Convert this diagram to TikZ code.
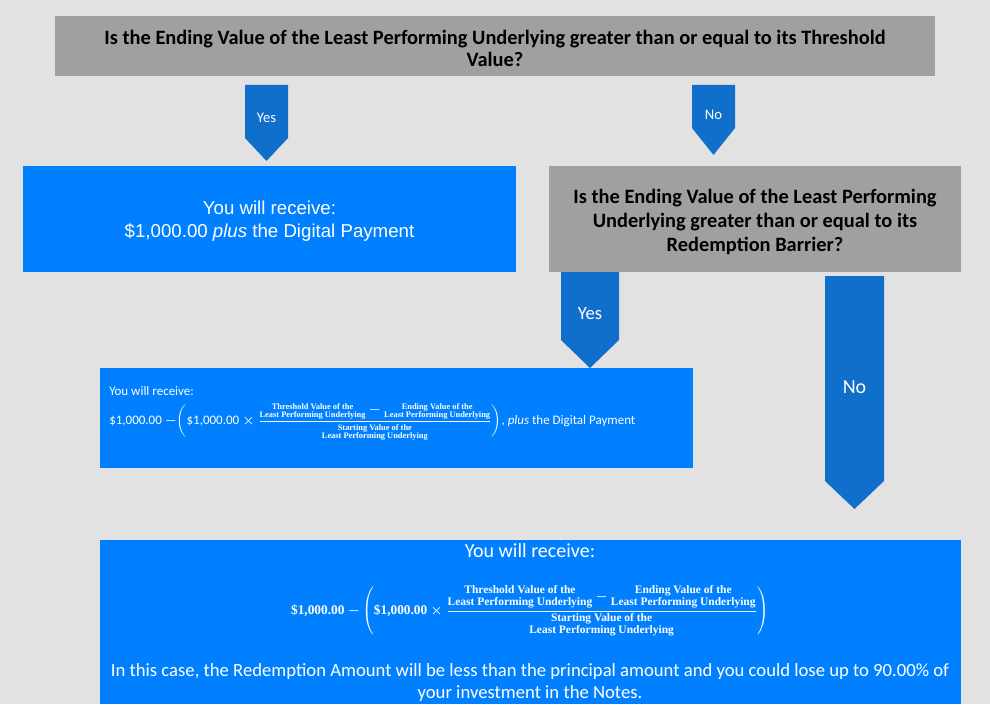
\documentclass[tikz,border=0pt]{standalone}
\usepackage{fontspec}
\usepackage{amsmath}
\usetikzlibrary{positioning,calc}
\newfontfamily\calibrifont{Carlito}
\newfontfamily\arialfont{Liberation Sans}
\newfontfamily\cambriafont{Liberation Serif}
\definecolor{bggray}{HTML}{E2E2E2}
\definecolor{qgray}{HTML}{A0A0A0}
\definecolor{resblue}{HTML}{0080FF}
\definecolor{arrblue}{HTML}{0F6FCB}
\newcommand{\twolines}[2]{\begin{tabular}{@{}c@{}}#1\\#2\end{tabular}}
\newcommand{\lossfrac}[1]{%
	\dfrac{\mbox{#1\twolines{Threshold Value of the}{Least Performing Underlying}}%
		-\mbox{#1\twolines{Ending Value of the}{Least Performing Underlying}}}%
	{\mbox{#1\twolines{Starting Value of the}{Least Performing Underlying}}}}
\newsavebox{\smallcalc}
\newsavebox{\bigcalc}
\tikzset{
	question/.style={fill=qgray,inner sep=0pt},
	result/.style={fill=resblue,inner sep=0pt},
	qtext/.style={inner sep=0pt,align=center,
		font=\calibrifont\bfseries\fontsize{15.3}{18}\selectfont},
	whitetext/.style={text=white,inner sep=0pt,align=center,font=\calibrifont},
}
\begin{document}
\sbox{\smallcalc}{\color{white}\calibrifont\fontsize{9.75}{11}\selectfont\boldmath
	\$1,000.00 $-\bigg(\text{\$1,000.00}\times
	\lossfrac{\cambriafont\bfseries\fontsize{6.3}{5.2}\selectfont}\bigg)$,
	\textit{plus} the Digital Payment}
\sbox{\bigcalc}{\color{white}\cambriafont\bfseries\fontsize{10}{11}\selectfont\boldmath
	\$1,000.00 $-\left(\text{\$1,000.00}\times
	\lossfrac{\cambriafont\bfseries\fontsize{8.6}{9}\selectfont}\right)$}
\begin{tikzpicture}[x=0.75pt,y=-0.75pt]
	\fill[white] (0,0) rectangle (990,717);
	\fill[bggray] (0,0) rectangle (990,704);
	\useasboundingbox (0,0) rectangle (990,717);
	% question boxes
	\node[question,minimum width=660pt,minimum height=45pt] (q1) at (495,46.5) {};
	\node[qtext,font=\calibrifont\bfseries\fontsize{15.3}{16.5}\selectfont] (q1text) at (495,48.5)
	{Is the Ending Value of the Least Performing Underlying greater than or equal to its Threshold\\Value?};
	\node[question,minimum width=309pt,minimum height=79.5pt] (q2) at (755,219) {};
	\node[qtext] (q2text) at (755,222)
	{Is the Ending Value of the Least Performing\\Underlying greater than or equal to its\\Redemption Barrier?};
	% result boxes
	\node[result,minimum width=369.75pt,minimum height=79.5pt] (r1) at (269.5,219) {};
	\node[whitetext,font=\arialfont\fontsize{14}{17}\selectfont] (r1text) at (269.5,221)
	{You will receive:\\\$1,000.00 \textit{plus} the Digital Payment};
	\node[result,minimum width=444.75pt,minimum height=75pt] (r2) at (396.5,418) {};
	\node[result,minimum width=645.75pt,minimum height=123pt] (r3) at (530.5,622) {};
	\node[whitetext,anchor=west,font=\calibrifont\fontsize{9.75}{11}\selectfont] (r2head)
		at (109,391) {You will receive:};
	\node[whitetext,anchor=west] (r2calc) at (109,422) {\usebox{\smallcalc}};
	\node[whitetext,font=\calibrifont\fontsize{15}{17}\selectfont] (r3head) at (530,551) {You will receive:};
	\node[whitetext] (r3calc) at (530,611) {\usebox{\bigcalc}};
	\node[whitetext,font=\calibrifont\fontsize{14}{16.5}\selectfont] (r3note) at (530,683)
		{In this case, the Redemption Amount will be less than the principal amount and you could lose up to 90.00\% of\\your investment in the Notes.};
	% block arrows
	\fill[arrblue] (245,85) -- (288,85) -- (288,138) -- (266.5,161) -- (245,138) -- cycle;
	\node[whitetext,font=\calibrifont\fontsize{11}{13}\selectfont] (yes1) at (266.5,118) {Yes};
	\fill[arrblue] (692,85) -- (735,85) -- (735,128) -- (713.5,155) -- (692,128) -- cycle;
	\node[whitetext,font=\calibrifont\fontsize{11}{13}\selectfont] (no1) at (713.5,115) {No};
	\fill[arrblue] (561,272) -- (619,272) -- (619,340) -- (590,368) -- (561,340) -- cycle;
	\node[whitetext,font=\calibrifont\fontsize{14}{16}\selectfont] (yes2) at (590,314) {Yes};
	\fill[arrblue] (825,276) -- (884,276) -- (884,481) -- (854.5,509) -- (825,481) -- cycle;
	\node[whitetext,font=\calibrifont\fontsize{15}{17}\selectfont] (no2) at (854.5,387) {No};
\end{tikzpicture}
\end{document}
